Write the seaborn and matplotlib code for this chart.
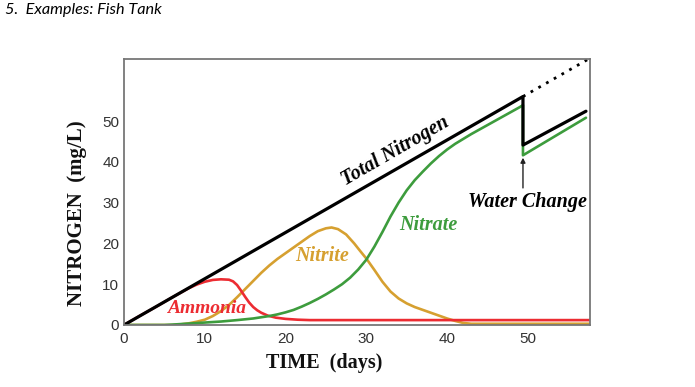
import numpy as np
import pandas as pd
import matplotlib
matplotlib.use("Agg")
import matplotlib.pyplot as plt
import seaborn as sns

# ---- data ----
total_days = [0, 49.4, 49.4, 57.2]
total_vals = [0, 56.0, 44.1, 52.4]
dotted_days = [49.4, 57.7]
dotted_vals = [56.0, 65.4]

nitrate_days = [0, 5, 6, 8, 10, 12, 14, 16, 18, 19, 20, 21, 22, 23, 24, 25, 26, 27, 28,
                29, 30, 31, 32, 33, 34, 35, 36, 37, 38, 39, 40, 41, 42, 43, 44, 45, 46,
                47, 48, 49, 49.4, 49.4, 57.2]
nitrate_vals = [0, 0, 0.1, 0.35, 0.6, 0.85, 1.2, 1.6, 2.2, 2.6, 3.1, 3.7, 4.5, 5.4, 6.4,
                7.5, 8.7, 10.0, 11.6, 13.6, 16.0, 19.2, 22.8, 26.6, 30.0, 33.0, 35.5,
                37.6, 39.6, 41.4, 43.0, 44.4, 45.6, 46.8, 47.9, 49.0, 50.1, 51.2, 52.3,
                53.4, 53.9, 41.6, 50.8]

nitrite_days = [0, 6, 7, 8, 9, 10, 11, 12, 13, 14, 15, 16, 17, 18, 19, 20, 21, 22, 23,
                24, 25, 25.7, 26.5, 27.5, 28.5, 29.3, 30, 31, 32, 33, 34, 35, 36, 37,
                38, 39, 40, 41, 42, 43, 57.7]
nitrite_vals = [0, 0, 0.15, 0.4, 0.8, 1.3, 2.2, 3.4, 4.9, 6.8, 8.8, 10.8, 12.8, 14.6,
                16.2, 17.6, 19.0, 20.4, 21.8, 23.0, 23.7, 23.9, 23.5, 22.2, 20.0, 18.0,
                16.3, 13.5, 10.6, 8.2, 6.5, 5.3, 4.4, 3.7, 3.0, 2.3, 1.6, 1.0, 0.5,
                0.3, 0.3]

ammonia_days = [0, 2, 4, 6, 8, 9, 10, 11, 12, 13, 13.5, 14, 14.5, 15, 15.5, 16, 16.5,
                17, 17.8, 18.8, 20, 21.5, 23, 57.7]
ammonia_vals = [0, 2.3, 4.5, 6.8, 9.0, 9.9, 10.6, 11.05, 11.2, 11.1, 10.7, 9.8, 8.4,
                6.9, 5.5, 4.4, 3.6, 3.0, 2.3, 1.8, 1.5, 1.3, 1.2, 1.2]

x_ticks = [0, 10, 20, 30, 40, 50]
y_ticks = [0, 10, 20, 30, 40, 50]

C_RED = "#ec2c32"
C_GOLD = "#d6a030"
C_GREEN = "#3d9c3d"

sns.set_style("white")
plt.rcParams["font.family"] = ["Liberation Sans", "DejaVu Sans"]

fig = plt.figure(figsize=(6.95, 3.87), dpi=100)
ax = fig.add_axes([124 / 695, 1 - 325 / 387, (590 - 124) / 695, (325 - 59) / 387])

df_nitrite = pd.DataFrame({"day": nitrite_days, "N": nitrite_vals})
df_nitrate = pd.DataFrame({"day": nitrate_days, "N": nitrate_vals})
df_ammonia = pd.DataFrame({"day": ammonia_days, "N": ammonia_vals})
df_total = pd.DataFrame({"day": total_days, "N": total_vals})
df_dotted = pd.DataFrame({"day": dotted_days, "N": dotted_vals})

kw = dict(x="day", y="N", sort=False, estimator=None, ax=ax)
sns.lineplot(data=df_nitrite, color=C_GOLD, linewidth=1.9, **kw)
sns.lineplot(data=df_ammonia, color=C_RED, linewidth=1.9, **kw)
sns.lineplot(data=df_nitrate, color=C_GREEN, linewidth=1.9, **kw)
sns.lineplot(data=df_total, color="black", linewidth=2.3, **kw)
sns.lineplot(data=df_dotted, color="black", linewidth=2.0, linestyle=(0, (1, 2.2)), **kw)

ax.set_xlim(0, 57.7)
ax.set_ylim(0, 65.2)
ax.set_xticks(x_ticks)
ax.set_yticks(y_ticks)
ax.tick_params(direction="in", length=6, width=1, colors="#444444",
               labelsize=11, labelcolor="#333333")
ax.tick_params(axis="x", pad=5)
for s in ax.spines.values():
    s.set_color("#777777")
    s.set_linewidth(1.3)

serif = ["Liberation Serif", "DejaVu Serif"]
ax.set_xlabel("TIME  (days)", fontsize=14.5, fontweight="bold", family=serif,
              color="#111111")
ax.xaxis.set_label_coords(0.43, -0.105)
ax.set_ylabel("NITROGEN  (mg/L)", fontsize=15, fontweight="bold", family=serif,
              color="#111111")
ax.yaxis.set_label_coords(-0.08, 0.42)

lab = dict(family=serif, fontweight="bold", style="italic", ha="center", va="center")
ax.text(33.6, 42.6, "Total Nitrogen", rotation=30, fontsize=14.5, color="black", **lab)
ax.text(24.5, 17.0, "Nitrite", fontsize=14.5, color=C_GOLD, **lab)
ax.text(37.7, 24.6, "Nitrate", fontsize=14.5, color=C_GREEN, **lab)
ax.text(10.2, 4.0, "Ammonia", fontsize=14, color=C_RED, **lab)
ax.text(49.9, 30.2, "Water Change", fontsize=14.5, color="black", **lab)
ax.annotate("", xy=(49.4, 41.0), xytext=(49.4, 33.6),
            arrowprops=dict(arrowstyle="-|>", color="#222222", lw=1.0,
                            mutation_scale=7, shrinkA=0, shrinkB=0))

fig.text(5 / 695, 1 - 3 / 387, "5.  Examples: Fish Tank", ha="left", va="top",
         fontsize=11.7, style="italic", family=["Lato", "DejaVu Sans"], color="black")

fig.savefig("out.png", dpi=100)
